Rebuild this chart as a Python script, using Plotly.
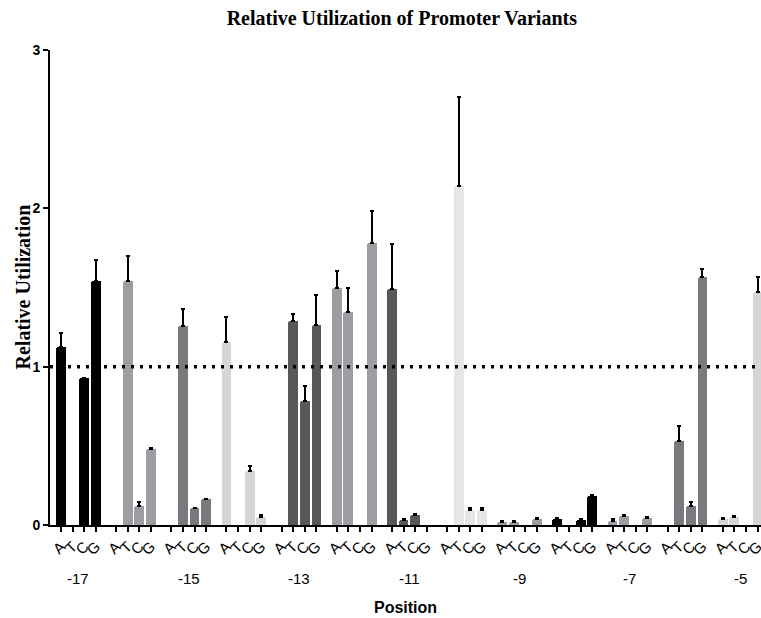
import plotly.graph_objects as go

# ---------------- data ----------------
positions = [-17, -16, -15, -14, -13, -12, -11, -10, -9, -8, -7, -6, -5]
nucleotides = ["A", "T", "C", "G"]

A_vals = [1.126, None, None, 1.154, None, 1.499, 1.493, None, 0.021, 0.036, 0.025, None, 0.036]
T_vals = [None, 1.543, 1.259, None, 1.289, 1.343, 0.032, 2.141, 0.021, None, 0.057, 0.531, 0.049]
C_vals = [0.927, 0.122, 0.105, 0.343, 0.785, None, 0.061, 0.095, None, 0.032, None, 0.122, None]
G_vals = [1.543, 0.480, 0.162, 0.053, 1.263, 1.781, None, 0.095, 0.040, 0.185, 0.042, 1.565, 1.470]

A_err = [0.085, None, None, 0.162, None, 0.106, 0.282, None, 0.004, 0.008, 0.010, None, 0.006]
T_err = [None, 0.157, 0.105, None, 0.042, 0.152, 0.004, 0.563, 0.004, None, 0.005, 0.096, 0.008]
C_err = [0.004, 0.025, 0.004, 0.030, 0.095, None, 0.006, 0.010, None, 0.004, None, 0.021, None]
G_err = [0.131, 0.005, 0.004, 0.010, 0.190, 0.203, None, 0.010, 0.004, 0.004, 0.007, 0.050, 0.098]

reference_level = 1.0
labelled_positions = [-17, -15, -13, -11, -9, -7, -5]

# ---------------- style ----------------
BLACK = "#000000"
GRAY = "#9e9da3"
MED = "#7a797e"
LIGHT = "#d6d6d6"
DARK = "#58585b"
LIGHTER = "#e6e6e6"
group_colors = [BLACK, GRAY, MED, LIGHT, DARK, GRAY, DARK, LIGHTER, GRAY, BLACK, GRAY, MED, LIGHT]

GROUP_STEP = 4.75  # category slots per group (4 bars + gap)

values_by_nt = [A_vals, T_vals, C_vals, G_vals]
errors_by_nt = [A_err, T_err, C_err, G_err]

xs, ys, errs, cols = [], [], [], []
tickvals, ticktext = [], []
for g, pos in enumerate(positions):
    for k, nt in enumerate(nucleotides):
        xv = g * GROUP_STEP + k
        tickvals.append(xv)
        ticktext.append(nt)
        v = values_by_nt[k][g]
        if v is not None:
            xs.append(xv)
            ys.append(v)
            e = errors_by_nt[k][g]
            errs.append(e if e is not None else 0)
            cols.append(group_colors[g])

fig = go.Figure()
fig.add_trace(go.Bar(
    x=xs, y=ys, width=0.85,
    marker=dict(color=cols, line=dict(width=0), cornerradius=2),
    error_y=dict(type="data", symmetric=False, array=errs,
                 arrayminus=[0] * len(errs), color=BLACK,
                 thickness=2, width=2),
    showlegend=False, cliponaxis=True,
))

# reference dotted line
fig.add_shape(type="line", xref="paper", x0=0, x1=1,
              yref="y", y0=reference_level, y1=reference_level,
              line=dict(color=BLACK, width=3.5, dash="3px,6px"),
              layer="above")

# position labels
for pos in labelled_positions:
    g = positions.index(pos)
    fig.add_annotation(x=g * GROUP_STEP + 1.5, xref="x", y=0, yref="paper",
                       yshift=-53, text=str(pos), showarrow=False,
                       font=dict(family="Liberation Sans, Arial", size=15, color=BLACK),
                       xanchor="center", yanchor="middle")

fig.add_annotation(x=0.5, xref="paper", y=0, yref="paper", yshift=-82,
                   text="<b>Position</b>", showarrow=False,
                   font=dict(family="Liberation Sans, Arial", size=16, color=BLACK),
                   xanchor="center", yanchor="middle")

# y axis title
fig.add_annotation(x=0, xref="paper", xshift=-28, y=0.5, yref="paper",
                   text="<b>Relative Utilization</b>", showarrow=False, textangle=-90,
                   font=dict(family="Liberation Serif, Times New Roman", size=20, color=BLACK),
                   xanchor="center", yanchor="middle")

fig.update_layout(
    width=761, height=618,
    margin=dict(l=50, r=0, t=50, b=93, autoexpand=False),
    paper_bgcolor="white", plot_bgcolor="white",
    title=dict(text="<b>Relative Utilization of Promoter Variants</b>",
               x=0.528, xanchor="center", y=0.971, yanchor="middle",
               font=dict(family="Liberation Serif, Times New Roman", size=20, color=BLACK)),
    bargap=0,
)

fig.update_xaxes(
    range=[-0.95, 60.29], automargin=False,
    tickmode="array", tickvals=tickvals, ticktext=ticktext,
    tickangle=-45, ticklabeloverflow="allow",
    ticks="outside", ticklen=5, tickwidth=1.5, tickcolor=BLACK,
    showline=True, linecolor=BLACK, linewidth=2,
    showgrid=False, zeroline=False,
    tickfont=dict(family="Liberation Sans, Arial", size=15, color=BLACK),
)
fig.update_yaxes(
    range=[0, 3], automargin=False,
    tickvals=[0, 1, 2, 3],
    ticks="outside", ticklen=5, tickwidth=1.5, tickcolor=BLACK,
    showline=True, linecolor=BLACK, linewidth=2,
    showgrid=False, zeroline=False,
    tickfont=dict(family="Liberation Sans, Arial", size=14, color=BLACK, weight="bold"),
)

# remove the default page margin so the 761x618 figure fills the window exactly
fig.write_html("out.html", config={"displayModeBar": False},
               post_script="document.body.style.margin='0';")
